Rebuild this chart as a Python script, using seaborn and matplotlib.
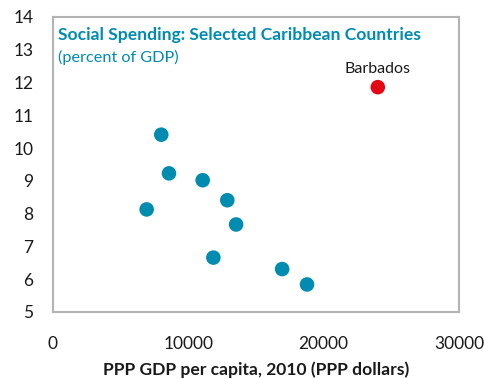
import matplotlib
matplotlib.use("Agg")
import matplotlib.pyplot as plt
import seaborn as sns
import pandas as pd

gdp_pc = [8000, 8570, 11060, 12880, 6920, 13530, 11850, 16930, 18770]
spending = [10.41, 9.23, 9.02, 8.41, 8.13, 7.67, 6.66, 6.31, 5.84]
barbados_gdp = [24000]
barbados_spending = [11.86]

x_ticks = [0, 10000, 20000, 30000]
y_ticks = [5, 6, 7, 8, 9, 10, 11, 12, 13, 14]

sns.set_style("white")
plt.rcParams['font.family'] = ['Lato', 'DejaVu Sans']

teal = "#008BB0"
red = "#E30613"

df = pd.DataFrame({"x": gdp_pc, "y": spending})
dfb = pd.DataFrame({"x": barbados_gdp, "y": barbados_spending})

fig = plt.figure(figsize=(4.85, 3.79), dpi=100)
ax = fig.add_axes([53/485, 1-312/379, (459-53)/485, (312-17)/379])

sns.scatterplot(data=df, x="x", y="y", ax=ax, color=teal, s=110, edgecolor="none", zorder=3)
sns.scatterplot(data=dfb, x="x", y="y", ax=ax, color=red, s=110, edgecolor="none", zorder=3)

ax.annotate("Barbados", (barbados_gdp[0], barbados_spending[0]), xytext=(0, 13),
            textcoords="offset points", ha="center", va="center", fontsize=11.5, color="#1a1a1a")

ax.set_xlim(0, 30000)
ax.set_ylim(5, 14)
ax.set_xticks(x_ticks)
ax.set_yticks(y_ticks)
ax.set_xticklabels([str(v) for v in x_ticks])
ax.set_yticklabels([str(v) for v in y_ticks])

for s in ax.spines.values():
    s.set_color("#b4b4b4")
    s.set_linewidth(1.5)

ax.tick_params(axis="x", direction="in", length=6, width=1.2, color="#b4b4b4",
               pad=17, labelsize=12.5, labelcolor="#1a1a1a")
ax.tick_params(axis="y", direction="in", length=4, width=1.2, color="#b4b4b4",
               pad=14, labelsize=12.5, labelcolor="#1a1a1a")

ax.set_xlabel("PPP GDP per capita, 2010 (PPP dollars)", fontsize=12.6, fontweight="bold",
              color="#1a1a1a", labelpad=7)
ax.set_ylabel("")

ax.text(0.012, 0.939, "Social Spending: Selected Caribbean Countries", transform=ax.transAxes,
        fontsize=12.6, fontweight="bold", color=teal, ha="left", va="center")
ax.text(0.012, 0.864, "(percent of GDP)", transform=ax.transAxes,
        fontsize=11.7, color=teal, ha="left", va="center")

fig.savefig("out.png", dpi=100)
